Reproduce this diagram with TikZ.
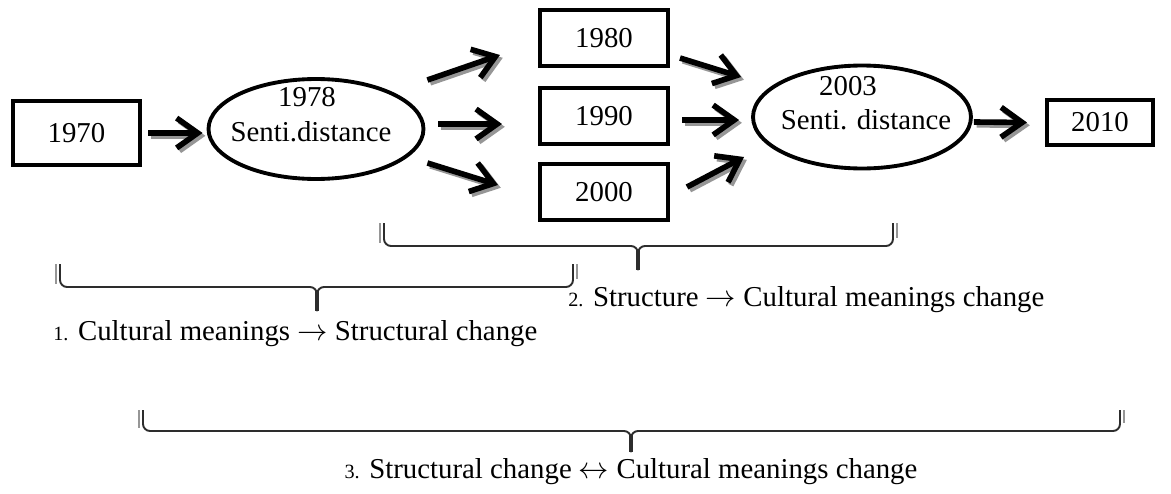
\documentclass[tikz,border=0pt]{standalone}
\usepackage{fontspec}
\setmainfont{Liberation Serif}
\usetikzlibrary{
    arrows.meta,
    positioning,
    calc,
    shapes.geometric
}
\definecolor{brGray}{RGB}{45,45,45}
\definecolor{shGray}{RGB}{150,150,150}
\tikzset{
  yearbox/.style = {draw, line width=2.3pt, minimum width=2.56cm,
                    minimum height=1.12cm, inner sep=0pt,
                    font=\fontsize{16.4}{19}\selectfont},
  sdist/.style   = {draw, ellipse, line width=2.2pt, minimum width=4.3cm,
                    minimum height=2.0cm, inner sep=0pt},
  lbl/.style     = {inner sep=0pt, font=\fontsize{16.4}{19}\selectfont},
  arr/.style     = {-{Straight Barb[length=12pt, width=17pt]}, line width=3.2pt},
  arrsh/.style   = {arr, shGray, transform canvas={shift={(1.6pt,-1.6pt)}}},
  brk/.style     = {brGray, line width=1.1pt, rounded corners=4pt}
}
\newcommand{\numsm}[1]{{\fontsize{11.5}{13}\selectfont #1}}
\newcommand{\sharrow}[2]{%
  \draw[arrsh] (#1) -- (#2);
  \draw[arr] (#1) -- (#2);}

\begin{document}
\begin{tikzpicture}[x=0.02cm, y=-0.02cm]
    \useasboundingbox (0,0) rectangle (1171,494);

    % years
    \node[yearbox, minimum width=2.54cm, minimum height=1.28cm] (b70) at (76.5,133) {1970};
    \node[yearbox] (b80) at (604,38) {1980};
    \node[yearbox] (b90) at (604,116) {1990};
    \node[yearbox] (b00) at (604,192) {2000};
    \node[yearbox, minimum width=2.12cm, minimum height=0.9cm] (b10) at (1100,122.5) {2010};

    % sentiment distance
    \node[sdist] (e1) at (316,129) {};
    \node[sdist, minimum width=4.36cm, minimum height=2.06cm] (e2) at (862,117) {};
    \node[lbl] (y78) at (307,97) {1978};
    \node[lbl] (s78) at (311,132) {Senti.distance};
    \node[lbl] (y03) at (848,86) {2003};
    \node[lbl] (s03) at (866,120) {Senti. distance};

    \sharrow{[shift={(6,0)}]b70.east}{[shift={(-4,4)}]e1.west}
    \sharrow{[shift={(2,-49)}]e1.east}{[shift={(-38,17)}]b80.west}
    \sharrow{[shift={(13,-5)}]e1.east}{[shift={(-36,8)}]b90.west}
    \sharrow{[shift={(2,34)}]e1.east}{[shift={(-40,-7)}]b00.west}
    \sharrow{[shift={(10,20)}]b80.east}{[shift={(-10,-40)}]e2.west}
    \sharrow{[shift={(12,4)}]b90.east}{[shift={(-12,3)}]e2.west}
    \sharrow{[shift={(17,-5)}]b00.east}{[shift={(-7,40)}]e2.west}
    \sharrow{[shift={(1,5)}]e2.east}{[shift={(-18,0)}]b10.west}

    % brackets
    \foreach \xa/\xm/\xb/\yt/\yl/\yb in {60/317/573/264/287/311,
                                         384/638/893/223/246/270,
                                         143/631/1120/410/431/452}{
      \draw[shGray, line width=1.1pt] (\xa-4,\yt) -- (\xa-4,\yl-3);
      \draw[shGray, line width=1.1pt] (\xb+4,\yt) -- (\xb+4,\yl-8);
      \draw[brk] (\xa,\yt) -- (\xa,\yl) -- (\xm,\yl) -- (\xm,\yb);
      \draw[brk] (\xb,\yt) -- (\xb,\yl) -- (\xm,\yl) -- (\xm,\yb);
      \draw[brGray, line width=1.8pt] (\xm,\yl+4) -- (\xm,\yb);
    }

    \node[lbl, anchor=west] (t1) at (53,334)
      {\numsm{1.} Cultural meanings $\rightarrow$ Structural change};
    \node[lbl, anchor=west] (t2) at (568,300)
      {\numsm{2.} Structure $\rightarrow$ Cultural meanings change};
    \node[lbl] (t3) at (631,472)
      {\numsm{3.} Structural change $\leftrightarrow$ Cultural meanings change};
\end{tikzpicture}
\end{document}
